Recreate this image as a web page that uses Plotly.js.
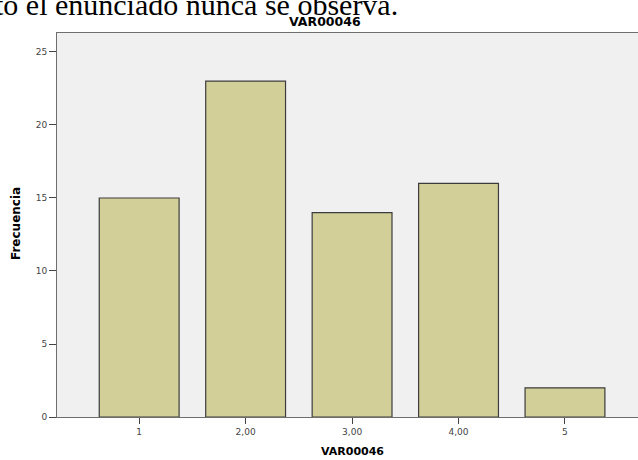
<!DOCTYPE html>
<html>
<head>
<meta charset="utf-8">
<script src="https://cdn.plot.ly/plotly-3.0.1.min.js"></script>
<style>html,body{margin:0;padding:0;background:#fff;}#chart{width:638px;height:460px;}</style>
</head>
<body>
<div id="chart"></div>
<script>
var categories = ["1", "2,00", "3,00", "4,00", "5"];
var frecuencia = [15, 23, 14, 16, 2];
var yTicks = [0, 5, 10, 15, 20, 25];
var chartTitle = "VAR00046";
var xTitle = "VAR00046";
var yTitle = "Frecuencia";
var headerText = "to el enunciado nunca se observa.";

var L = 57, T = 33, B = 43, R = 0, W = 638, H = 460;
var pw = W - L - R, ph = H - T - B;
function px(x) { return (x - L) / pw; }
function py(y) { return (H - B - y) / ph; }

var trace = {
  type: "bar",
  x: categories,
  y: frecuencia,
  width: 0.75,
  marker: { color: "#d3cf98", line: { color: "#3c3c3c", width: 1.2 } },
  hoverinfo: "x+y"
};

var sans = "DejaVu Sans, Arial, sans-serif";

var layout = {
  width: W, height: H,
  margin: { l: L, r: R, t: T, b: B, pad: 0 },
  paper_bgcolor: "#ffffff",
  plot_bgcolor: "#f0f0f0",
  showlegend: false,
  font: { family: sans, color: "#444", size: 9 },
  xaxis: {
    type: "category",
    range: [-0.772, 4.686],
    showgrid: false, zeroline: false,
    showline: true, linecolor: "#6e6e6e", linewidth: 1, mirror: true,
    ticks: "outside", ticklen: 6, tickcolor: "#444", tickwidth: 1,
    tickfont: { size: 9, color: "#444", family: sans }
  },
  yaxis: {
    range: [0, 26.3],
    tickvals: yTicks,
    showgrid: false, zeroline: false,
    showline: true, linecolor: "#6e6e6e", linewidth: 1,
    ticks: "outside", ticklen: 7, tickcolor: "#444", tickwidth: 1,
    tickfont: { size: 9, color: "#444", family: sans }
  },
  annotations: [
    { text: headerText, xref: "paper", yref: "paper", x: px(-7), y: py(23),
      xanchor: "left", yanchor: "bottom", showarrow: false,
      font: { size: 30, color: "#000", family: "Liberation Serif, Times New Roman, serif" } },
    { text: "<b>" + chartTitle + "</b>", xref: "paper", yref: "paper", x: px(325), y: py(21),
      xanchor: "center", yanchor: "middle", showarrow: false,
      font: { size: 12.5, color: "#000", family: sans } },
    { text: "<b>" + xTitle + "</b>", xref: "paper", yref: "paper", x: px(352), y: py(451),
      xanchor: "center", yanchor: "middle", showarrow: false,
      font: { size: 11, color: "#000", family: sans } },
    { text: "<b>" + yTitle + "</b>", xref: "paper", yref: "paper", x: px(16), y: py(224),
      xanchor: "center", yanchor: "middle", textangle: -90, showarrow: false,
      font: { size: 12, color: "#000", family: sans } }
  ]
};

Plotly.newPlot("chart", [trace], layout, { displayModeBar: false, staticPlot: true });
</script>
</body>
</html>
